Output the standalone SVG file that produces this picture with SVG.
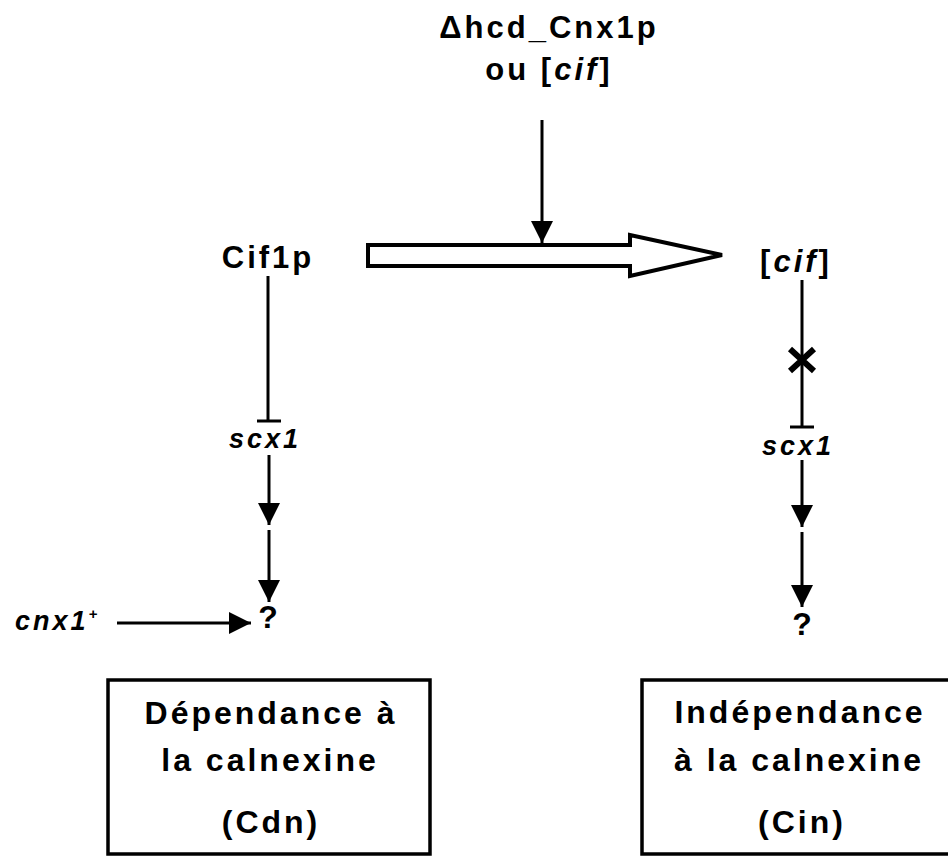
<svg xmlns="http://www.w3.org/2000/svg" width="948" height="856" viewBox="0 0 948 856">
<style>
text{font-family:"Liberation Sans",Arial,sans-serif;font-weight:bold;fill:#000;text-anchor:middle}
.big{font-size:32px;letter-spacing:3px}
.lab{font-size:31px;letter-spacing:3px}
.gene{font-size:27px;font-style:italic;letter-spacing:3px}
.start{text-anchor:start}
.q{font-size:32px}
.ln{stroke:#000;stroke-width:3;fill:none}
.box{stroke:#000;stroke-width:3.5;fill:#fff}
</style>
<defs>
<marker id="ah" viewBox="0 0 22 22" refX="22" refY="11" markerWidth="22" markerHeight="22" markerUnits="userSpaceOnUse" orient="auto">
<path d="M0,0 L22,11 L0,22 Z" fill="#000"/>
</marker>
</defs>
<rect width="948" height="856" fill="#fff"/>

<g id="top-label">
<text class="lab" x="549" y="38">Δhcd_Cnx1p</text>
<text class="lab" x="549" y="80">ou [<tspan font-style="italic">cif</tspan>]</text>
</g>

<g id="cif1p"><text class="lab" x="268" y="268">Cif1p</text></g>
<g id="cif-right"><text class="lab" x="796" y="272">[<tspan font-style="italic">cif</tspan>]</text></g>

<g id="scx1-left"><text class="gene" x="265" y="448">scx1</text></g>
<g id="scx1-right"><text class="gene" x="798" y="455">scx1</text></g>

<g id="q-left"><text class="q" x="268" y="628">?</text></g>
<g id="q-right"><text class="q" x="802" y="635">?</text></g>

<g id="cnx1"><text class="gene start" x="15" y="630">cnx1<tspan font-size="15" dy="-11">+</tspan></text></g>

<g id="box-cdn">
<rect class="box" x="108" y="680" width="322" height="174"/>
<text class="big" x="271" y="724">Dépendance à</text>
<text class="big" x="270" y="771">la calnexine</text>
<text class="big" x="271" y="833">(Cdn)</text>
</g>

<g id="box-cin">
<rect class="box" x="642" y="680" width="330" height="174"/>
<text class="big" x="800" y="723">Indépendance</text>
<text class="big" x="799" y="771">à la calnexine</text>
<text class="big" x="802" y="833">(Cin)</text>
</g>

<g id="connectors">
<path d="M368,245 L630,245 L630,235 L722,255 L630,276 L630,266 L368,266 Z" fill="#fff" stroke="#000" stroke-width="4" stroke-linejoin="miter"/>
<line class="ln" x1="542" y1="120" x2="542" y2="243" marker-end="url(#ah)"/>
<line class="ln" x1="268" y1="276" x2="268" y2="421"/>
<line class="ln" x1="257" y1="421" x2="281" y2="421"/>
<line class="ln" x1="269" y1="455" x2="269" y2="525" marker-end="url(#ah)"/>
<line class="ln" x1="269" y1="530" x2="269" y2="602" marker-end="url(#ah)"/>
<line class="ln" x1="117" y1="623" x2="251" y2="623" marker-end="url(#ah)"/>
<line class="ln" x1="802" y1="280" x2="802" y2="427"/>
<line class="ln" x1="790" y1="427" x2="814" y2="427"/>
<path d="M790,349 L814,371 M814,349 L790,371" stroke="#000" stroke-width="6" fill="none"/>
<line class="ln" x1="802" y1="460" x2="802" y2="527" marker-end="url(#ah)"/>
<line class="ln" x1="802" y1="532" x2="802" y2="607" marker-end="url(#ah)"/>
</g>
</svg>
